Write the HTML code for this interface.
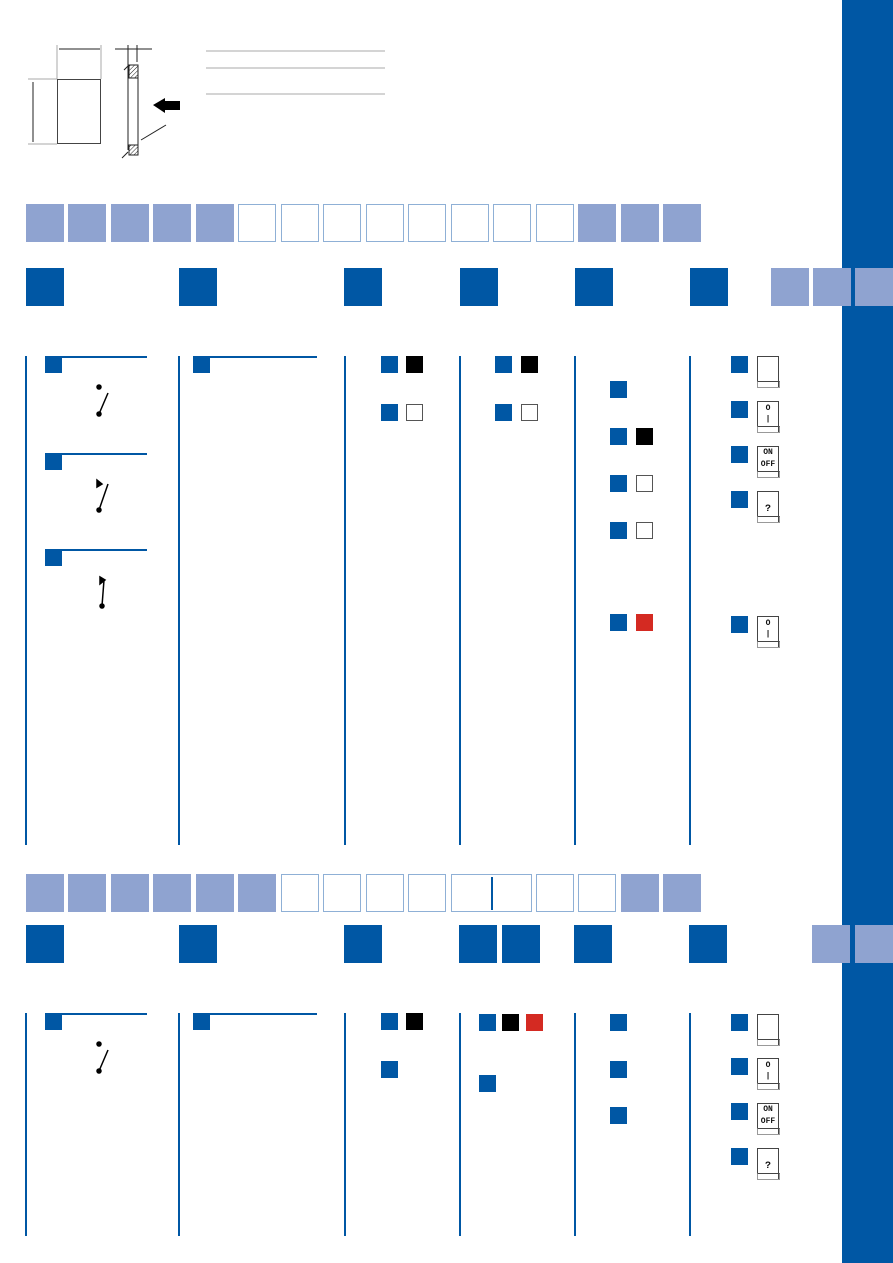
<!DOCTYPE html>
<html><head><meta charset="utf-8"><style>
body{margin:0;width:893px;height:1263px;position:relative;background:#fff;overflow:hidden;font-family:"Liberation Sans",sans-serif}
div{position:absolute;box-sizing:border-box}
.lf{width:38px;height:38px;background:#8fa3d0}
.lo{width:38px;height:38px;border:1.5px solid #8fb0d6}
.dk{width:38px;height:38px;background:#0057a4}
.s{width:17px;height:17px;background:#0057a4}
.b{width:17px;height:17px;background:#000}
.r{width:17px;height:17px;background:#d42a22}
.o{width:17px;height:17px;border:1px solid #555}
.v{width:1.5px;background:#0057a4}
.h{height:1.5px;background:#0057a4}
.sw{width:22px;height:32px;border:1.5px solid #444;border-bottom:none}
.sw:after{content:"";position:absolute;left:-1.5px;right:-1.5px;bottom:0;height:7px;border:1.5px solid #999;border-top:1.5px solid #444;box-sizing:border-box}
.sw span{position:absolute;left:0;right:0;text-align:center;font:bold 8px "Liberation Mono",monospace;color:#111}
</style></head><body>
<div style="left:842px;top:0;width:51px;height:1263px;background:#0057a4"></div>
<svg style="position:absolute;left:0;top:0" width="400" height="170">
<defs><pattern id="ht" width="3" height="3" patternUnits="userSpaceOnUse" patternTransform="rotate(45)"><line x1="0" y1="0" x2="0" y2="3" stroke="#222" stroke-width="1"/></pattern></defs>
<g stroke="#aaa" stroke-width="1" fill="none">
<line x1="57" y1="45" x2="57" y2="79"/><line x1="101" y1="45" x2="101" y2="79"/>
<line x1="28" y1="79" x2="57" y2="79"/><line x1="28" y1="144" x2="57" y2="144"/>
<line x1="206" y1="51" x2="385" y2="51"/><line x1="206" y1="68" x2="385" y2="68"/><line x1="206" y1="94" x2="385" y2="94"/>
</g>
<g stroke="#222" stroke-width="1" fill="none">
<line x1="59" y1="49" x2="100" y2="49"/><line x1="33" y1="82" x2="33" y2="142"/>
<rect x="57.5" y="79.5" width="43" height="64" stroke="#444"/>
<line x1="128" y1="45" x2="128" y2="150"/><line x1="137" y1="45" x2="137" y2="62"/>
<line x1="115" y1="49" x2="152" y2="49"/>
<line x1="138" y1="78" x2="138" y2="145"/>
<line x1="141" y1="140" x2="166" y2="125"/>
<line x1="122" y1="158" x2="128" y2="152"/><line x1="124" y1="70" x2="128" y2="66"/>
</g>
<rect x="129" y="65" width="9" height="13" fill="url(#ht)" stroke="#222"/>
<rect x="129" y="145" width="9" height="10" fill="url(#ht)" stroke="#222"/>
<polygon points="153,105 165,98 165,101 180,101 180,110 165,110 165,113" fill="#000"/>
</svg>
<!-- row 1 grid -->
<div class="lf" style="left:26px;top:204px"></div><div class="lf" style="left:68px;top:204px"></div><div class="lf" style="left:111px;top:204px"></div><div class="lf" style="left:153px;top:204px"></div><div class="lf" style="left:196px;top:204px"></div>
<div class="lo" style="left:238px;top:204px"></div><div class="lo" style="left:281px;top:204px"></div><div class="lo" style="left:323px;top:204px"></div><div class="lo" style="left:366px;top:204px"></div><div class="lo" style="left:408px;top:204px"></div><div class="lo" style="left:451px;top:204px"></div><div class="lo" style="left:493px;top:204px"></div><div class="lo" style="left:536px;top:204px"></div>
<div class="lf" style="left:578px;top:204px"></div><div class="lf" style="left:621px;top:204px"></div><div class="lf" style="left:663px;top:204px"></div>
<div class="dk" style="left:26px;top:268px"></div><div class="dk" style="left:179px;top:268px"></div><div class="dk" style="left:344px;top:268px"></div><div class="dk" style="left:460px;top:268px"></div><div class="dk" style="left:575px;top:268px"></div><div class="dk" style="left:690px;top:268px"></div>
<div class="lf" style="left:771px;top:268px"></div><div class="lf" style="left:813px;top:268px"></div><div class="lf" style="left:855px;top:268px"></div>
<div class="v" style="left:25px;top:356px;height:489px"></div><div class="v" style="left:178px;top:356px;height:489px"></div><div class="v" style="left:344px;top:356px;height:489px"></div><div class="v" style="left:459px;top:356px;height:489px"></div><div class="v" style="left:574px;top:356px;height:489px"></div><div class="v" style="left:689px;top:356px;height:489px"></div>
<div class="h" style="left:45px;top:356px;width:102px"></div><div class="h" style="left:45px;top:453px;width:102px"></div><div class="h" style="left:45px;top:549px;width:102px"></div><div class="h" style="left:193px;top:356px;width:124px"></div>
<div class="s" style="left:45px;top:356px"></div><div class="s" style="left:45px;top:453px"></div><div class="s" style="left:45px;top:549px"></div><div class="s" style="left:193px;top:356px"></div>
<svg style="position:absolute;left:90px;top:380px" width="30" height="240">
<g stroke="#000" stroke-width="1.5" fill="#000">
<circle cx="9" cy="7" r="2"/><circle cx="9" cy="34" r="2"/><line x1="9" y1="34" x2="18" y2="13"/>
<polygon points="7,100 7,107 12,104"/><circle cx="9" cy="130" r="2"/><line x1="9" y1="130" x2="18" y2="104"/>
<polygon points="10,197 10,204 15,200"/><circle cx="12" cy="226" r="2"/><line x1="12" y1="226" x2="14" y2="200"/>
</g></svg>
<div class="s" style="left:381px;top:356px"></div><div class="b" style="left:406px;top:356px"></div>
<div class="s" style="left:381px;top:404px"></div><div class="o" style="left:406px;top:404px"></div>
<div class="s" style="left:495px;top:356px"></div><div class="b" style="left:521px;top:356px"></div>
<div class="s" style="left:495px;top:404px"></div><div class="o" style="left:521px;top:404px"></div>
<div class="s" style="left:610px;top:381px"></div>
<div class="s" style="left:610px;top:428px"></div><div class="b" style="left:636px;top:428px"></div>
<div class="s" style="left:610px;top:475px"></div><div class="o" style="left:636px;top:475px"></div>
<div class="s" style="left:610px;top:522px"></div><div class="o" style="left:636px;top:522px"></div>
<div class="s" style="left:610px;top:614px"></div><div class="r" style="left:636px;top:614px"></div>
<div class="s" style="left:731px;top:356px"></div><div class="sw" style="left:757px;top:356px"></div>
<div class="s" style="left:731px;top:401px"></div><div class="sw" style="left:757px;top:401px"><span style="top:2px">O</span><span style="top:13px">|</span></div>
<div class="s" style="left:731px;top:446px"></div><div class="sw" style="left:757px;top:446px"><span style="top:1px">ON</span><span style="top:13px">OFF</span></div>
<div class="s" style="left:731px;top:491px"></div><div class="sw" style="left:757px;top:491px"><span style="top:12px;font-size:10px">?</span></div>
<div class="s" style="left:731px;top:616px"></div><div class="sw" style="left:757px;top:616px"><span style="top:2px">O</span><span style="top:13px">|</span></div>
<!-- row 2 grid -->
<div class="lf" style="left:26px;top:874px"></div><div class="lf" style="left:68px;top:874px"></div><div class="lf" style="left:111px;top:874px"></div><div class="lf" style="left:153px;top:874px"></div><div class="lf" style="left:196px;top:874px"></div><div class="lf" style="left:238px;top:874px"></div>
<div class="lo" style="left:281px;top:874px"></div><div class="lo" style="left:323px;top:874px"></div><div class="lo" style="left:366px;top:874px"></div><div class="lo" style="left:408px;top:874px"></div>
<div class="lo" style="left:451px;top:874px;width:81px"></div><div class="v" style="left:491px;top:877px;height:33px"></div>
<div class="lo" style="left:536px;top:874px"></div><div class="lo" style="left:578px;top:874px"></div>
<div class="lf" style="left:621px;top:874px"></div><div class="lf" style="left:663px;top:874px"></div>
<div class="dk" style="left:26px;top:925px"></div><div class="dk" style="left:179px;top:925px"></div><div class="dk" style="left:344px;top:925px"></div><div class="dk" style="left:459px;top:925px"></div><div class="dk" style="left:502px;top:925px"></div><div class="dk" style="left:574px;top:925px"></div><div class="dk" style="left:689px;top:925px"></div>
<div class="lf" style="left:812px;top:925px"></div><div class="lf" style="left:855px;top:925px"></div>
<div class="v" style="left:25px;top:1013px;height:223px"></div><div class="v" style="left:178px;top:1013px;height:223px"></div><div class="v" style="left:344px;top:1013px;height:223px"></div><div class="v" style="left:459px;top:1013px;height:223px"></div><div class="v" style="left:574px;top:1013px;height:223px"></div><div class="v" style="left:689px;top:1013px;height:223px"></div>
<div class="h" style="left:45px;top:1013px;width:102px"></div><div class="h" style="left:193px;top:1013px;width:124px"></div>
<div class="s" style="left:45px;top:1013px"></div><div class="s" style="left:193px;top:1013px"></div>
<svg style="position:absolute;left:90px;top:1037px" width="30" height="40">
<g stroke="#000" stroke-width="1.5" fill="#000"><circle cx="9" cy="7" r="2"/><circle cx="9" cy="34" r="2"/><line x1="9" y1="34" x2="18" y2="13"/></g></svg>
<div class="s" style="left:381px;top:1013px"></div><div class="b" style="left:406px;top:1013px"></div>
<div class="s" style="left:381px;top:1061px"></div>
<div class="s" style="left:479px;top:1014px"></div><div class="b" style="left:502px;top:1014px"></div><div class="r" style="left:526px;top:1014px"></div>
<div class="s" style="left:479px;top:1075px"></div>
<div class="s" style="left:610px;top:1014px"></div><div class="s" style="left:610px;top:1061px"></div><div class="s" style="left:610px;top:1107px"></div>
<div class="s" style="left:731px;top:1014px"></div><div class="sw" style="left:757px;top:1014px"></div>
<div class="s" style="left:731px;top:1058px"></div><div class="sw" style="left:757px;top:1058px"><span style="top:2px">O</span><span style="top:13px">|</span></div>
<div class="s" style="left:731px;top:1103px"></div><div class="sw" style="left:757px;top:1103px"><span style="top:1px">ON</span><span style="top:13px">OFF</span></div>
<div class="s" style="left:731px;top:1148px"></div><div class="sw" style="left:757px;top:1148px"><span style="top:12px;font-size:10px">?</span></div>
</body></html>
